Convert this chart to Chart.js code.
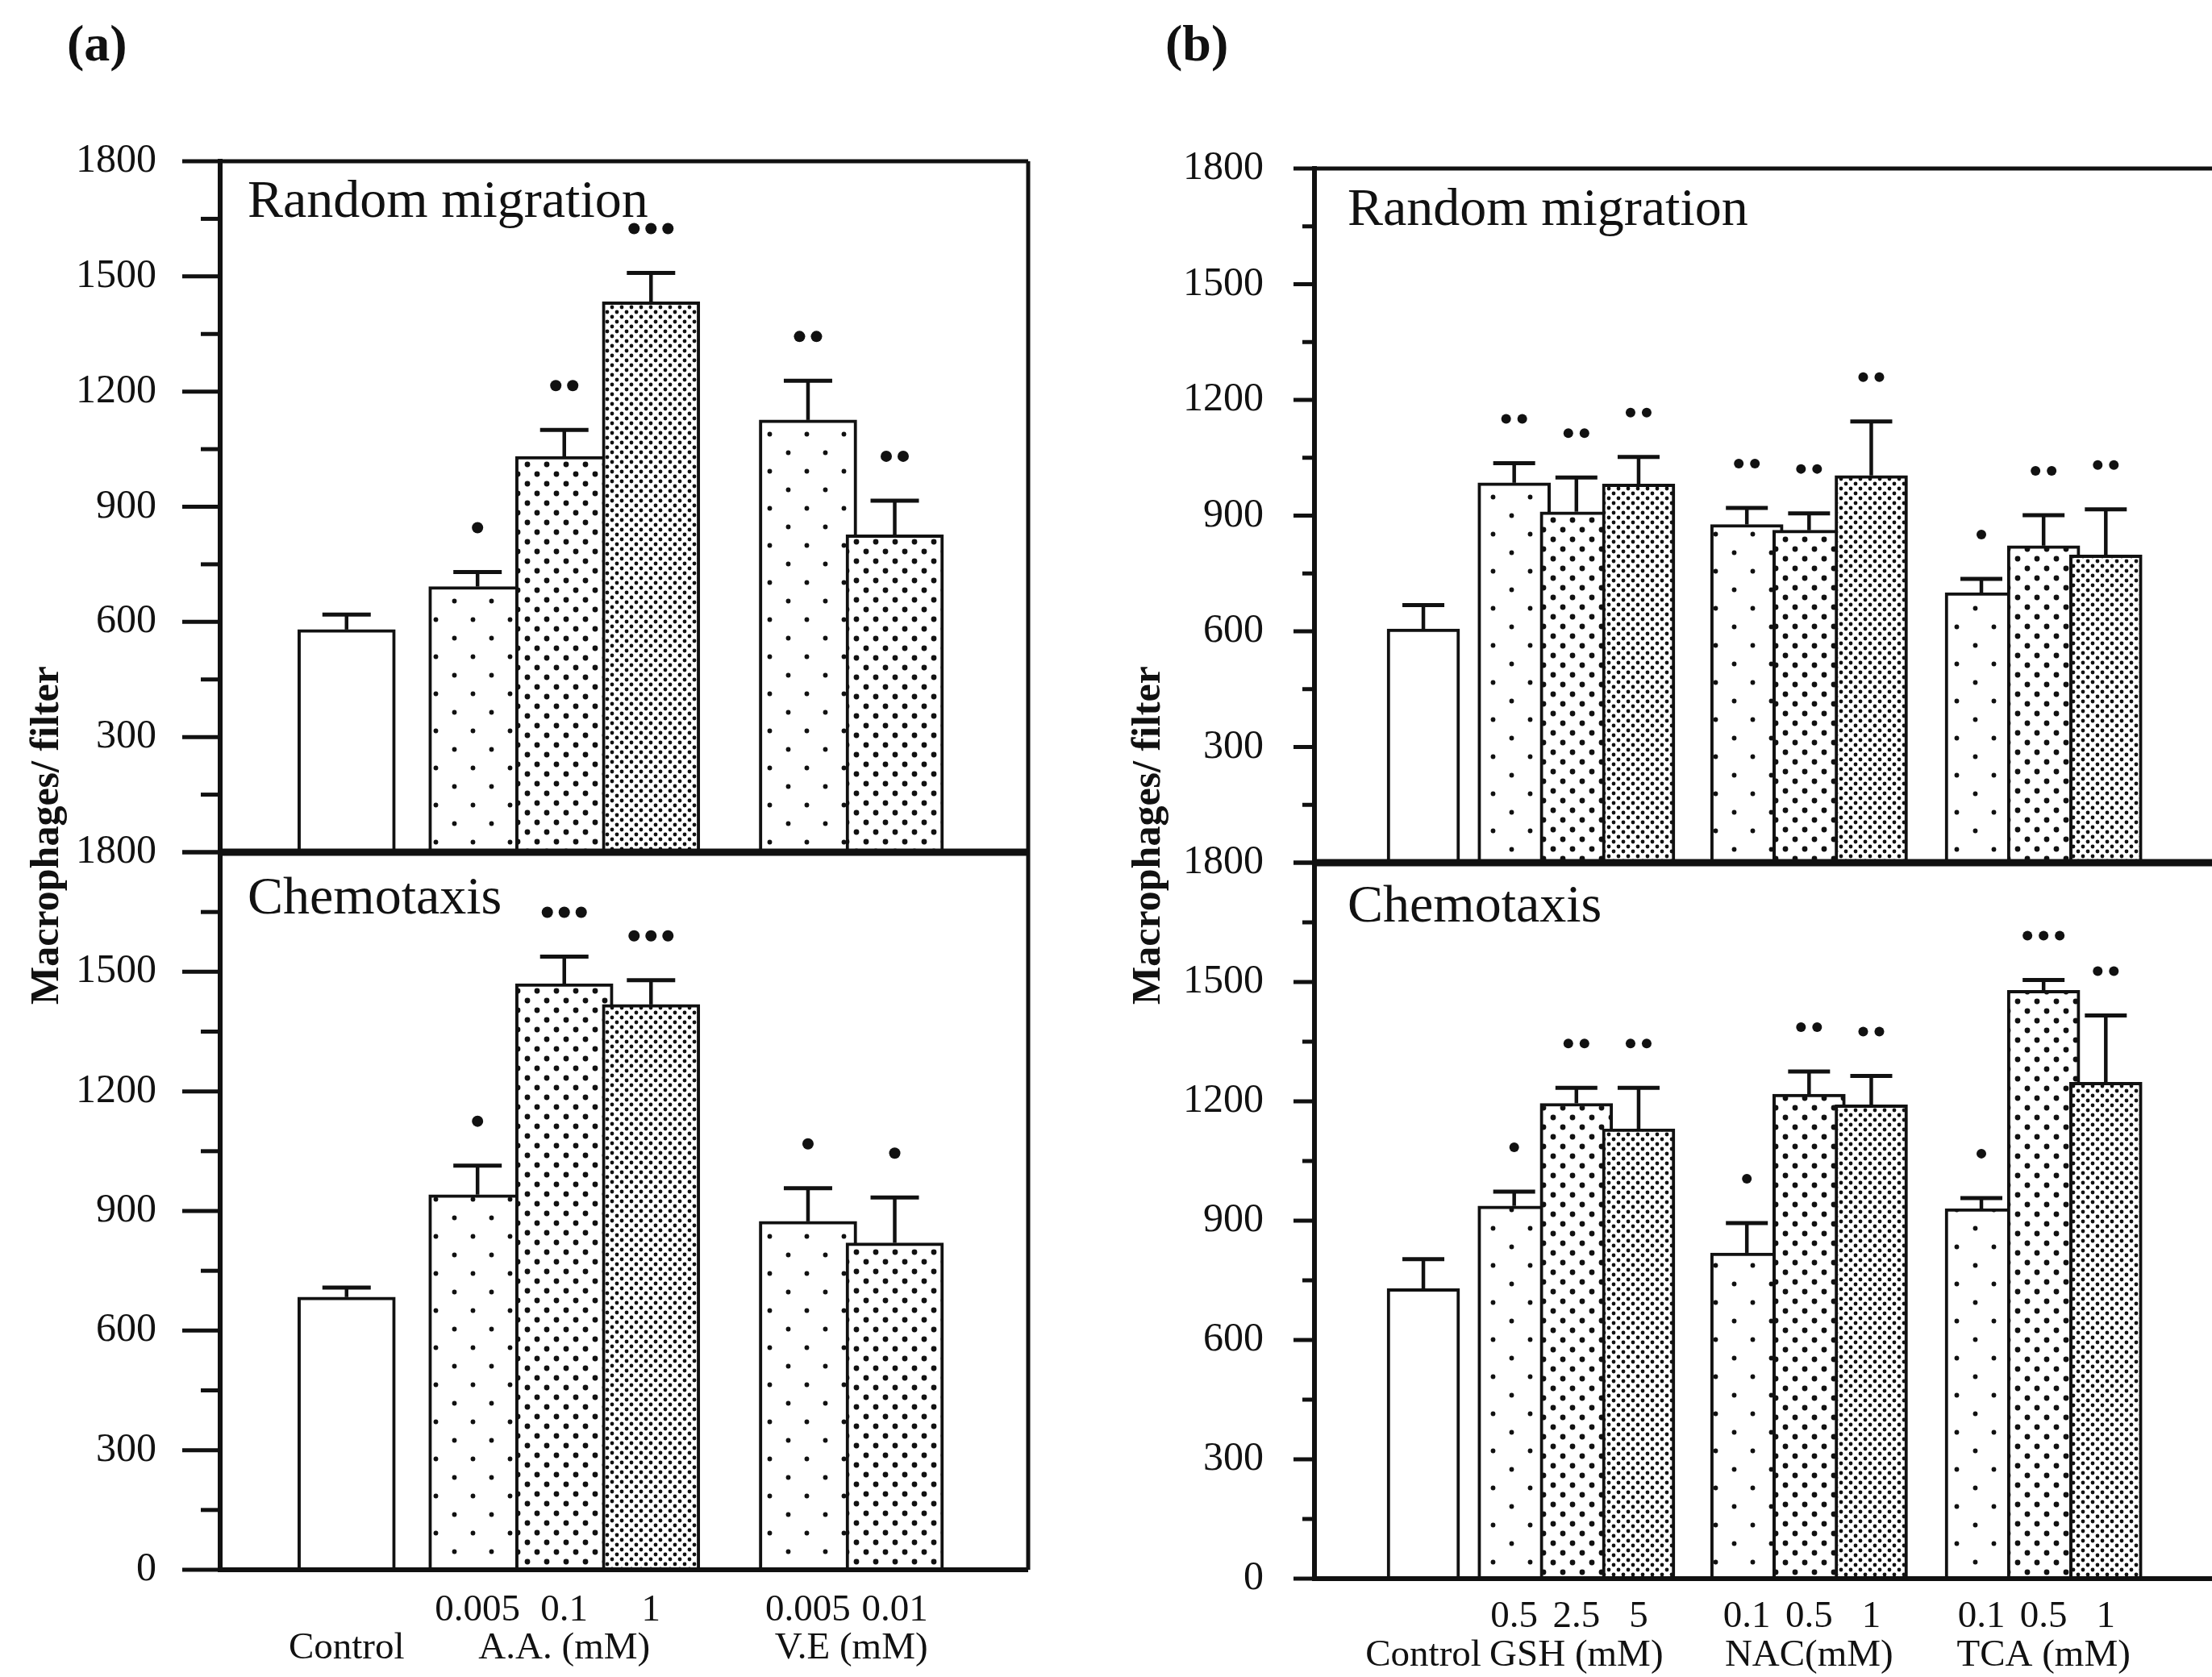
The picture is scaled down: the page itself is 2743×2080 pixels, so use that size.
<!DOCTYPE html>
<html>
<head>
<meta charset="utf-8">
<title>Macrophage migration</title>
<script src="https://cdn.jsdelivr.net/npm/chart.js@4.4.0/dist/chart.umd.min.js"></script>
<style>
  html, body { margin: 0; padding: 0; background: #fff; }
  #page { position: relative; width: 2743px; height: 2080px; overflow: hidden; background: #fff;
          font-family: 'Liberation Serif', 'Times New Roman', serif; color: #111; }
  canvas { position: absolute; }
  .tag { position: absolute; font-weight: bold; font-size: 64px; line-height: 1; }
  .ytitle { position: absolute; font-weight: bold; font-size: 50px; line-height: 1; white-space: nowrap;
            transform: translate(-50%, -50%) rotate(-90deg); }
</style>
</head>
<body>
<div id="page">
  <div class="tag" style="left:83px; top:22px">(a)</div>
  <div class="tag" style="left:1445px; top:22px">(b)</div>
  <div class="ytitle" style="left:55px; top:1036px">Macrophages/ filter</div>
  <div class="ytitle" style="left:1421px; top:1036px">Macrophages/ filter</div>
  <canvas id="a1" width="1300" height="1077" style="left:0; top:90px"></canvas>
  <canvas id="a2" width="1300" height="1133" style="left:0; top:947px"></canvas>
  <canvas id="b1" width="1363" height="1081" style="left:1380px; top:99px"></canvas>
  <canvas id="b2" width="1363" height="1120" style="left:1380px; top:960px"></canvas>
</div>
<script>
/* ── DATA ───────────────────────────────────────────────────────── */
// panel (a): ascorbic acid / vitamin E
const DOSES_A    = ['', '0.005', '0.1', '1', '0.005', '0.01'];
const GROUPS_A   = ['Control', 'A.A. (mM)', 'V.E (mM)'];
const GROUP_OF_A = [0, 1, 1, 1, 2, 2];
const RANDOM_A     = [580, 692, 1031, 1434, 1126, 827];
const RANDOM_A_ERR = [39, 38, 69, 75, 102, 89];
const RANDOM_A_SIG = [0, 1, 2, 3, 2, 2];
const CHEMO_A      = [684, 941, 1470, 1418, 874, 820];
const CHEMO_A_ERR  = [24, 73, 68, 61, 83, 114];
const CHEMO_A_SIG  = [0, 1, 3, 3, 1, 1];

// panel (b): GSH / NAC / TCA
const DOSES_B    = ['', '0.5', '2.5', '5', '0.1', '0.5', '1', '0.1', '0.5', '1'];
const GROUPS_B   = ['Control', 'GSH (mM)', 'NAC(mM)', 'TCA (mM)'];
const GROUP_OF_B = [0, 1, 1, 1, 2, 2, 2, 3, 3, 3];
const RANDOM_B     = [606, 985, 910, 982, 877, 862, 1004, 700, 822, 798];
const RANDOM_B_ERR = [62, 51, 89, 70, 43, 44, 140, 36, 79, 118];
const RANDOM_B_SIG = [0, 2, 2, 2, 2, 2, 2, 1, 2, 2];
const CHEMO_B      = [729, 937, 1195, 1131, 819, 1218, 1191, 930, 1479, 1248];
const CHEMO_B_ERR  = [74, 36, 39, 103, 75, 57, 73, 27, 26, 168];
const CHEMO_B_SIG  = [0, 1, 2, 2, 1, 2, 2, 1, 3, 2];

const Y_MAX = 1800, Y_STEP = 150, Y_LABEL_STEP = 300;

/* ── STYLE / LAYOUT ─────────────────────────────────────────────── */
const INK = '#111';
const SERIF = "'Liberation Serif', 'Times New Roman', serif";

function dotPattern(cell, r, dots) {
  const c = document.createElement('canvas');
  c.width = cell; c.height = cell;
  const g = c.getContext('2d');
  g.fillStyle = '#fff'; g.fillRect(0, 0, cell, cell);
  g.fillStyle = INK;
  dots.forEach(([x, y]) => { g.beginPath(); g.arc(x, y, r, 0, Math.PI * 2); g.fill(); });
  return g.createPattern(c, 'repeat');
}
const FILL = {
  none:   '#fff',
  sparse: dotPattern(46, 2.9, [[11.5, 11.5], [34.5, 34.5]]),
  medium: dotPattern(24, 3.4, [[6, 6], [18, 18]]),
  dense:  dotPattern(12, 2.4, [[3, 3], [9, 9]]),
};
const FILLS_A = ['none', 'sparse', 'medium', 'dense', 'sparse', 'medium'].map(k => FILL[k]);
const FILLS_B = ['none', 'sparse', 'medium', 'dense', 'sparse', 'medium', 'dense', 'sparse', 'medium', 'dense'].map(k => FILL[k]);

// x layout in bar widths: lead to first bar centre, then centre spacing across group breaks
function barSlots(groupOf, lead, gaps) {
  const xs = [];
  let x = lead;
  groupOf.forEach((g, i) => {
    if (i > 0) x += g !== groupOf[i - 1] ? gaps[g - 1] : 1;
    xs.push(x);
  });
  return xs;
}

const PANEL_A = { areaW: 1002, barPx: 121, axisW: 273, labelPad: 71, major: 47, minor: 24, capHalf: 30,
                  starR: 7, starGap: 21, right: true, xs: barSlots(GROUP_OF_A, 0.94, [1.51, 1.81]),
                  fills: FILLS_A, doses: DOSES_A, groups: GROUPS_A, groupOf: GROUP_OF_A, titleDx: 34 };
const PANEL_B = { areaW: 1113, barPx: 90, axisW: 250, labelPad: 55, major: 26, minor: 15, capHalf: 26,
                  starR: 6, starGap: 20, right: false, xs: barSlots(GROUP_OF_B, 0.72, [1.46, 1.74, 1.77]),
                  fills: FILLS_B, doses: DOSES_B, groups: GROUPS_B, groupOf: GROUP_OF_B, titleDx: 41 };
const STAR_LIFT = 55;

/* ── DECORATION PLUGIN (frame, ticks, error bars, stars, labels) ── */
function decorFor(p) {
  return {
    id: 'decor',
    afterDatasetsDraw(chart) {
      const { ctx, chartArea: a, scales: { y } } = chart;
      const seg = (x1, y1, x2, y2, w) => {
        ctx.lineWidth = w; ctx.beginPath(); ctx.moveTo(x1, y1); ctx.lineTo(x2, y2); ctx.stroke();
      };
      ctx.save();
      ctx.strokeStyle = INK; ctx.fillStyle = INK; ctx.lineCap = 'butt';

      // error bars (upper half only) and significance dots
      chart.getDatasetMeta(0).data.forEach((bar, i) => {
        const top = y.getPixelForValue(p.values[i] + p.errs[i]);
        seg(bar.x, bar.y, bar.x, top, 4.5);
        seg(bar.x - p.capHalf, top, bar.x + p.capHalf, top, 5);
        const n = p.sig[i];
        for (let k = 0; k < n; k++) {
          ctx.beginPath();
          ctx.arc(bar.x + (k - (n - 1) / 2) * p.starGap, top - STAR_LIFT, p.starR, 0, Math.PI * 2);
          ctx.fill();
        }
      });

      // frame
      seg(a.left, a.top - 3, a.left, a.bottom + 3, 6);
      if (p.upper) seg(a.left, a.top, a.right, a.top, 5);
      seg(a.left, a.bottom, a.right, a.bottom, p.upper ? 9 : 6);
      if (p.right) seg(a.right, a.top, a.right, a.bottom, 5);

      // y ticks
      for (let v = 0; v <= Y_MAX; v += Y_STEP) {
        const yy = y.getPixelForValue(v);
        const len = v % Y_LABEL_STEP === 0 ? p.major : p.minor;
        seg(a.left - len, yy, a.left, yy, 5);
      }

      // panel title inside the plot
      ctx.font = `66px ${SERIF}`;
      ctx.textAlign = 'left'; ctx.textBaseline = 'alphabetic';
      ctx.fillText(p.title, a.left + p.titleDx, a.top + p.titleDy);

      // x labels under the lower plot
      if (!p.upper) {
        const xs = chart.getDatasetMeta(0).data.map(b => b.x);
        ctx.font = `47px ${SERIF}`;
        ctx.textAlign = 'center';
        p.doses.forEach((d, i) => ctx.fillText(d, xs[i], a.bottom + p.doseDy));
        p.groups.forEach((g, gi) => {
          const members = xs.filter((_, i) => p.groupOf[i] === gi);
          const cx = members.reduce((s, x) => s + x, 0) / members.length;
          ctx.fillText(g, cx, a.bottom + p.groupDy);
        });
      }
      ctx.restore();
    }
  };
}

function makeChart(id, p) {
  return new Chart(document.getElementById(id), {
    type: 'bar',
    data: {
      datasets: [{
        data: p.values.map((v, i) => ({ x: p.xs[i], y: v })),
        backgroundColor: p.fills,
        borderColor: INK,
        borderWidth: 4,
        borderSkipped: 'start',
        barThickness: p.barPx,
      }]
    },
    options: {
      responsive: false,
      animation: false,
      devicePixelRatio: 1,
      layout: { padding: p.padding },
      plugins: { legend: { display: false }, tooltip: { enabled: false } },
      scales: {
        x: { type: 'linear', min: 0, max: p.areaW / p.barPx, display: false },
        y: {
          min: 0, max: Y_MAX,
          afterFit: s => { s.width = p.axisW; },
          grid: { display: false },
          border: { display: false },
          ticks: {
            stepSize: Y_STEP, autoSkip: false, padding: p.labelPad, color: INK,
            font: { family: SERIF, size: 50 },
            callback: v => (v % Y_LABEL_STEP === 0 && (v > 0 || !p.upper)) ? String(v) : ''
          }
        }
      }
    },
    plugins: [decorFor(p)]
  });
}

makeChart('a1', { ...PANEL_A, upper: true, title: 'Random migration', titleDy: 69,
  values: RANDOM_A, errs: RANDOM_A_ERR, sig: RANDOM_A_SIG,
  padding: { top: 110, bottom: 110, left: 0, right: 25 } });
makeChart('a2', { ...PANEL_A, upper: false, title: 'Chemotaxis', titleDy: 76, doseDy: 63, groupDy: 110,
  values: CHEMO_A, errs: CHEMO_A_ERR, sig: CHEMO_A_SIG,
  padding: { top: 110, bottom: 133, left: 0, right: 25 } });
makeChart('b1', { ...PANEL_B, upper: true, title: 'Random migration', titleDy: 70,
  values: RANDOM_B, errs: RANDOM_B_ERR, sig: RANDOM_B_SIG,
  padding: { top: 110, bottom: 110, left: 0, right: 0 } });
makeChart('b2', { ...PANEL_B, upper: false, title: 'Chemotaxis', titleDy: 73, doseDy: 60, groupDy: 108,
  values: CHEMO_B, errs: CHEMO_B_ERR, sig: CHEMO_B_SIG,
  padding: { top: 110, bottom: 122, left: 0, right: 0 } });
</script>
</body>
</html>
